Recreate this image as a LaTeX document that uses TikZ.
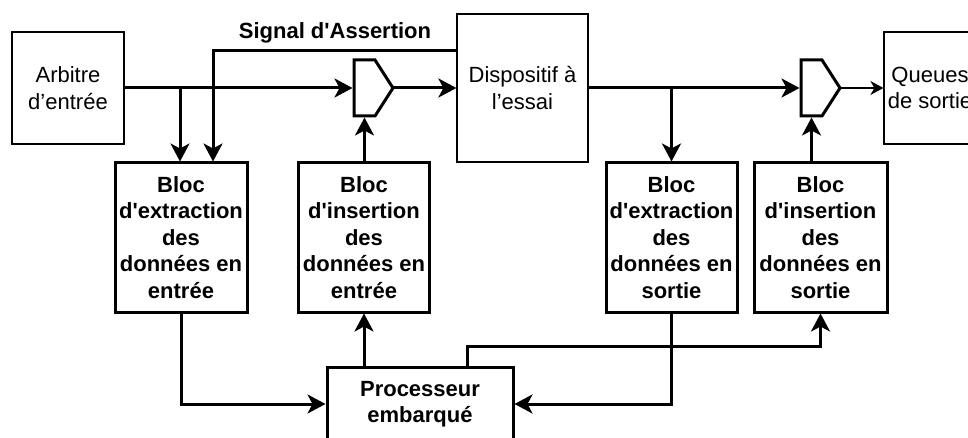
\documentclass[tikz,border=0pt]{standalone}
\usepackage{fontspec}
\setmainfont{Liberation Sans}
% plain family: no TeX ligature mapping, so ' stays a straight apostrophe
\newfontfamily\lsans{Liberation Sans}
\usetikzlibrary{arrows.meta,calc}
\begin{document}
\begin{tikzpicture}[x=1pt,y=-1pt,
  font=\lsans\fontsize{22}{26.5}\selectfont,
  thinbox/.style={draw,line width=1.2pt,inner sep=0pt,outer sep=0.6pt,align=center},
  block/.style={draw,line width=3pt,inner sep=0pt,outer sep=1.5pt,align=center,
    minimum width=131pt,minimum height=149pt,
    font=\lsans\fontsize{22}{26.5}\selectfont\bfseries},
  bus/.style={line width=3pt,-{Stealth[length=18pt,width=19pt,inset=5pt]}},
  wire/.style={line width=1.2pt,-{Stealth[length=13pt,width=14pt,inset=4pt]}},
  mux/.pic={
    \draw[line width=3pt,line join=miter] (0,-28) -- (21,-28) -- (39,0) -- (21,28) -- (0,28) -- cycle;
    \coordinate (-in) at (-1.5,0);
    \coordinate (-out) at (39,0);
    \coordinate (-bot) at (10.5,29.5);
  }]
\useasboundingbox (0,0) rectangle (968,438);
\clip (0,0) rectangle (968,438);

% plain boxes
\node[thinbox,minimum width=112pt,minimum height=112pt] (arb) at (68,88) {Arbitre\\d’entrée};
\node[thinbox,minimum width=131pt,minimum height=148pt] (dut) at (522.5,88) {Dispositif à\\l’essai};
\node[thinbox,minimum width=92pt,minimum height=112pt] (que) at (930,88) {Queues\\de sortie};

% multiplexers
\pic (m1) at (354,88) {mux};
\pic (m2) at (801,88) {mux};

% processing blocks
\node[block,minimum width=132pt] (b1) at (181,237.5) {Bloc\\d'extraction\\des\\données en\\entrée};
\node[block] (b2) at (364,237.5) {Bloc\\d'insertion\\des\\données en\\entrée};
\node[block] (b3) at (671.5,237.5) {Bloc\\d'extraction\\des\\données en\\sortie};
\node[block,minimum width=133pt] (b4) at (820.5,237.5) {Bloc\\d'insertion\\des\\données en\\sortie};
\node[block,minimum width=186pt,minimum height=74pt] (proc) at (420,404) {Processeur\\embarqué};

% input path
\draw[bus] (arb.east) -- (m1-in);
\draw[bus] ([xshift=-1pt]b1.north |- arb.east) -- ([xshift=-1pt]b1.north);
\draw[bus] ([yshift=37pt]dut.west) -| ([xshift=32pt]b1.north);
\node[font=\lsans\fontsize{22}{26.5}\selectfont\bfseries] (sig) at (335,33) {Signal d'Assertion};
\draw[bus] (m1-out) -- (dut.west);
\draw[bus] (b2.north -| m1-bot) -- (m1-bot);

% output path
\draw[bus] (dut.east) -- (m2-in);
\draw[bus] (b3.north |- dut.east) -- (b3.north);
\draw[bus] (b4.north -| m2-bot) -- (m2-bot);
\draw[wire] (m2-out) -- (que.west);

% links with the embedded processor
\draw[bus] (b1.south) |- (proc.west);
\draw[bus] (proc.north -| b2.south) -- (b2.south);
\draw[bus] ([xshift=47pt]proc.north) -- ++(0,19pt) -| (b4.south);
\draw[bus] (b3.south) |- (proc.east);
\end{tikzpicture}
\end{document}
